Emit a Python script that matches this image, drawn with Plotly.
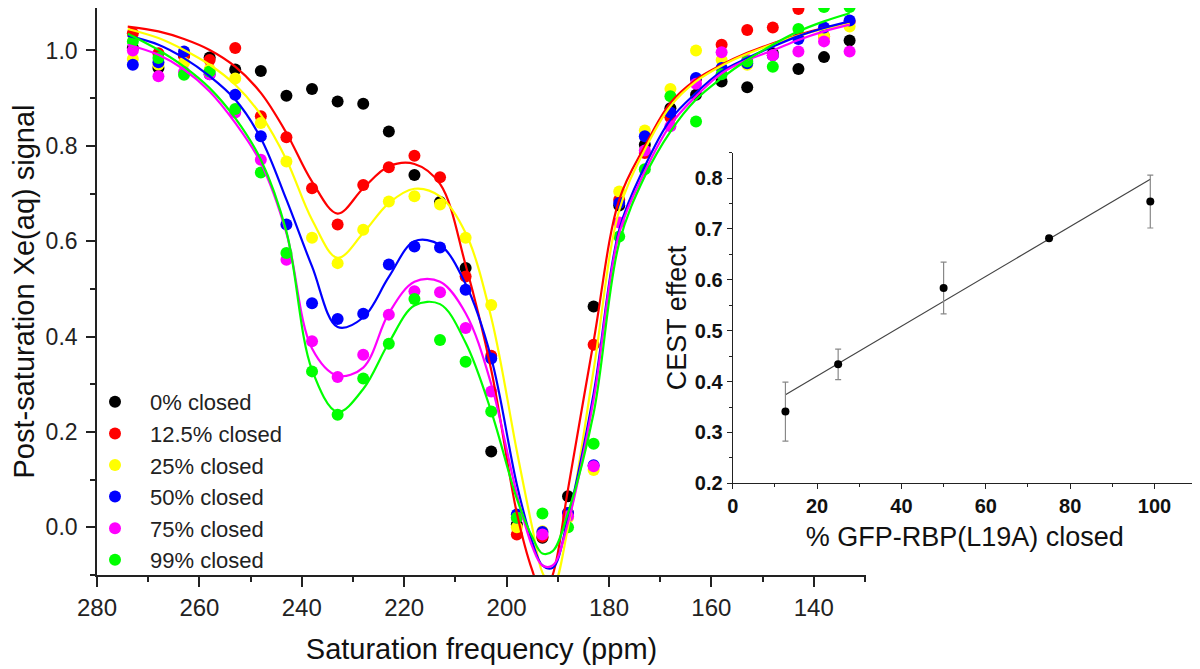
import plotly.graph_objects as go

# ---------------- main panel data ----------------
ppm = [273, 268, 263, 258, 253, 248, 243, 238, 233, 228,
       223, 218, 213, 208, 203, 198, 193, 188, 183, 178,
       173, 168, 163, 158, 153, 148, 143, 138, 133]

sig_0 = [1.005, 0.963, 0.989, 0.985, 0.960, 0.957, 0.905, 0.919, 0.893, 0.888,
         0.830, 0.739, 0.682, 0.544, 0.159, 0.006, -0.022, 0.065, 0.463, 0.675,
         0.802, 0.879, 0.907, 0.935, 0.923, 0.994, 0.961, 0.986, 1.021]
sig_12 = [1.036, 0.994, 0.990, 0.980, 1.005, 0.862, 0.818, 0.711, 0.635, 0.718,
          0.755, 0.779, 0.734, 0.526, 0.360, -0.015, -0.020, 0.030, 0.383, 0.687,
          0.785, 0.860, 0.940, 1.012, 1.043, 1.048, 1.087, 1.030, 1.060]
sig_25 = [0.982, 0.970, 0.974, 0.960, 0.941, 0.848, 0.767, 0.607, 0.554, 0.624,
          0.683, 0.694, 0.677, 0.607, 0.466, 0.000, -0.008, 0.020, 0.120, 0.704,
          0.832, 0.919, 1.000, 0.980, 0.970, 0.990, 1.030, 1.030, 1.050]
sig_50 = [0.970, 0.975, 0.998, 0.950, 0.907, 0.820, 0.635, 0.470, 0.437, 0.448,
          0.551, 0.589, 0.587, 0.498, 0.354, 0.027, -0.010, 0.030, 0.130, 0.680,
          0.820, 0.870, 0.942, 0.963, 0.973, 0.990, 1.024, 1.048, 1.063]
sig_75 = [1.000, 0.946, 0.955, 0.950, 0.870, 0.771, 0.561, 0.390, 0.315, 0.362,
          0.446, 0.495, 0.493, 0.418, 0.285, 0.020, -0.015, 0.023, 0.128, 0.639,
          0.790, 0.841, 0.930, 0.996, 0.980, 0.990, 0.998, 1.019, 0.998]
sig_99 = [1.019, 0.984, 0.949, 0.956, 0.877, 0.744, 0.575, 0.327, 0.236, 0.312,
          0.385, 0.479, 0.393, 0.347, 0.243, 0.020, 0.029, 0.000, 0.175, 0.610,
          0.751, 0.904, 0.851, 0.950, 0.977, 0.966, 1.045, 1.091, 1.091]

# fitted curves
fit_ppm = [274, 268, 263, 258, 253, 248, 243, 238, 233, 228,
           223, 218, 213, 208, 203, 198, 195, 193, 191, 188,
           183, 178, 173, 168, 163, 158, 153, 148, 143, 138, 133]
fit_12 = [1.050, 1.040, 1.024, 1.001, 0.966, 0.911, 0.827, 0.725, 0.658, 0.711,
          0.757, 0.762, 0.720, 0.550, 0.330, 0.030, -0.090, -0.140, -0.100, 0.080,
          0.390, 0.687, 0.799, 0.890, 0.939, 0.970, 0.995, 1.015, 1.033, 1.047, 1.057]
fit_25 = [1.045, 1.026, 1.001, 0.970, 0.928, 0.865, 0.771, 0.645, 0.565, 0.617,
          0.680, 0.710, 0.694, 0.617, 0.440, 0.160, 0.000, -0.095, -0.125, 0.000,
          0.330, 0.665, 0.792, 0.883, 0.935, 0.968, 0.993, 1.013, 1.031, 1.045, 1.056]
fit_50 = [1.031, 1.012, 0.984, 0.946, 0.897, 0.816, 0.687, 0.547, 0.420, 0.440,
          0.525, 0.600, 0.592, 0.510, 0.355, 0.090, -0.030, -0.080, -0.085, 0.020,
          0.280, 0.624, 0.757, 0.855, 0.911, 0.956, 0.984, 1.008, 1.030, 1.047, 1.061]
fit_75 = [1.012, 0.991, 0.960, 0.914, 0.848, 0.764, 0.617, 0.375, 0.318, 0.335,
          0.449, 0.515, 0.515, 0.449, 0.300, 0.070, -0.040, -0.080, -0.080, 0.010,
          0.268, 0.617, 0.746, 0.844, 0.904, 0.952, 0.980, 1.000, 1.022, 1.040, 1.054]
fit_99 = [1.035, 1.001, 0.966, 0.921, 0.858, 0.771, 0.620, 0.330, 0.242, 0.290,
          0.387, 0.465, 0.468, 0.387, 0.243, 0.060, -0.020, -0.055, -0.050, 0.030,
          0.239, 0.597, 0.736, 0.830, 0.897, 0.942, 0.980, 1.012, 1.040, 1.061, 1.078]

series_names = ["0% closed", "12.5% closed", "25% closed",
                "50% closed", "75% closed", "99% closed"]
series_colors = ["#000000", "#ff0000", "#ffff00", "#0000ff", "#ff00ff", "#00ff00"]

# ---------------- inset data ----------------
pct_closed = [12.5, 25, 50, 75, 99]
cest_effect = [0.341, 0.434, 0.584, 0.682, 0.754]
cest_err = [0.058, 0.030, 0.051, 0.004, 0.052]
line_x = [12.5, 99]
line_y = [0.374, 0.798]

FONT = "Arial, 'Liberation Sans', sans-serif"

# the page body adds an 8 px offset; the figure is sized to fill the rest
W, H, OFF = 1192, 661, 8


def px(xs):
    return (xs - OFF) / W


def py(ys):
    return 1 - (ys - OFF) / H


fig = go.Figure()

signals = [sig_0, sig_12, sig_25, sig_50, sig_75, sig_99]
fits = [None, fit_12, fit_25, fit_50, fit_75, fit_99]

for name, col, sig in zip(series_names, series_colors, signals):
    fig.add_trace(go.Scatter(
        x=ppm, y=sig, mode="markers", name=name,
        marker=dict(color=col, size=12, line=dict(width=0)),
        xaxis="x", yaxis="y"))

for name, col, fit in zip(series_names, series_colors, fits):
    if fit is None:
        continue
    fig.add_trace(go.Scatter(
        x=fit_ppm, y=fit, mode="lines", showlegend=False,
        line=dict(color=col, width=2.2, shape="spline", smoothing=1.0),
        hoverinfo="skip", xaxis="x", yaxis="y"))

# inset
fig.add_trace(go.Scatter(
    x=line_x, y=line_y, mode="lines", showlegend=False,
    line=dict(color="#444444", width=1.2), xaxis="x2", yaxis="y2"))
fig.add_trace(go.Scatter(
    x=pct_closed, y=cest_effect, mode="markers", showlegend=False,
    marker=dict(color="black", size=8),
    error_y=dict(type="data", array=cest_err, color="#888888", thickness=1.2, width=3),
    xaxis="x2", yaxis="y2"))

axis_common = dict(showline=True, linecolor="#222222", showgrid=False, zeroline=False,
                   ticks="outside", tickcolor="#222222", automargin=False)

fig.update_layout(
    width=W, height=H,
    margin=dict(l=0, r=0, t=0, b=0, autoexpand=False),
    paper_bgcolor="white", plot_bgcolor="rgba(0,0,0,0)",
    font=dict(family=FONT, color="#222222"),
    showlegend=True,
    legend=dict(x=px(80), y=py(381), xanchor="left", yanchor="top",
                bgcolor="rgba(0,0,0,0)", borderwidth=0,
                font=dict(size=22, family=FONT, color="#222222"),
                itemwidth=60, tracegroupgap=0),
    xaxis=dict(domain=[px(97), px(866)], range=[280, 129.8],
               tickvals=[280, 260, 240, 220, 200, 180, 160, 140],
               ticklen=10, tickwidth=1.6, linewidth=1.6,
               minor=dict(dtick=10, tick0=0, ticklen=5, tickwidth=1.6, ticks="outside",
                          tickcolor="#222222"),
               tickfont=dict(size=24, family=FONT, color="#222222"),
               title=dict(text="Saturation frequency (ppm)",
                          font=dict(size=29, family=FONT, color="#111111"), standoff=19),
               anchor="y", **axis_common),
    yaxis=dict(domain=[py(575), 1.0], range=[-0.1, 1.089],
               tickvals=[0.0, 0.2, 0.4, 0.6, 0.8, 1.0], tickformat=".1f",
               ticklen=9, tickwidth=1.6, linewidth=1.6, ticklabelstandoff=4,
               minor=dict(dtick=0.1, tick0=0, ticklen=5, tickwidth=1.6, ticks="outside",
                          tickcolor="#222222"),
               tickfont=dict(size=23, family=FONT, color="#222222"),
               title=dict(text="Post-saturation Xe(aq) signal",
                          font=dict(size=29, family=FONT, color="#111111"), standoff=10),
               anchor="x", **axis_common),
    xaxis2=dict(domain=[px(732.7), px(1196.7)], range=[0, 110],
                tickvals=[0, 20, 40, 60, 80, 100],
                ticklen=5, tickwidth=1.2, linewidth=1.2,
                minor=dict(dtick=10, tick0=0, ticklen=3, tickwidth=1.2, ticks="outside",
                           tickcolor="#222222"),
                tickfont=dict(size=20, family=FONT, color="#111111", weight="bold"),
                title=dict(text="% GFP-RBP(L19A) closed",
                           font=dict(size=27, family=FONT, color="#111111"), standoff=10),
                anchor="y2", **axis_common),
    yaxis2=dict(domain=[py(483.3), py(152.7)], range=[0.2, 0.85],
                tickvals=[0.2, 0.3, 0.4, 0.5, 0.6, 0.7, 0.8], tickformat=".1f",
                ticklen=5, tickwidth=1.2, linewidth=1.2,
                minor=dict(dtick=0.05, tick0=0, ticklen=3, tickwidth=1.2, ticks="outside",
                           tickcolor="#222222"),
                tickfont=dict(size=20, family=FONT, color="#111111", weight="bold"),
                title=dict(text="CEST effect",
                           font=dict(size=27, family=FONT, color="#111111"), standoff=0),
                anchor="x2", **axis_common),
)

fig.write_html("out.html")
